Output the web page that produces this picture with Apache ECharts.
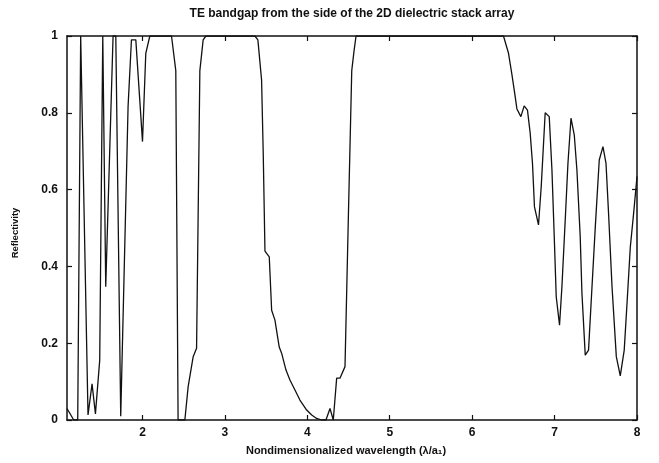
<!DOCTYPE html>
<html>
<head>
<meta charset="utf-8">
<script src="https://cdn.jsdelivr.net/npm/echarts@6/dist/echarts.min.js"></script>
<style>html,body{margin:0;padding:0;background:#fff}#c{width:659px;height:463px}</style>
</head>
<body>
<div id="c"></div>
<script>
var titleText = 'TE bandgap from the side of the 2D dielectric stack array';
var xName = 'Nondimensionalized wavelength (\u03bb/a\u2081)';
var yName = 'Reflectivity';
var xTicks = [2, 3, 4, 5, 6, 7, 8];
var wavelength = [
  1.084, 1.166, 1.214, 1.25, 1.269, 1.339, 1.388, 1.429, 1.481, 1.518, 1.536, 1.554, 1.643, 1.676, 1.736,
  1.825, 1.866, 1.919, 2.0, 2.04, 2.089, 2.352, 2.404, 2.432, 2.514, 2.554, 2.615, 2.656, 2.696, 2.736,
  2.769, 3.364, 3.40, 3.445, 3.465, 3.486, 3.538, 3.567, 3.607, 3.659, 3.688, 3.741, 3.789, 3.85, 3.91,
  3.992, 4.053, 4.113, 4.174, 4.226, 4.275, 4.315, 4.356, 4.396, 4.457, 4.497, 4.539, 4.566, 4.591, 6.38,
  6.441, 6.482, 6.522, 6.543, 6.591, 6.631, 6.671, 6.704, 6.732, 6.756, 6.805, 6.838, 6.886, 6.935, 6.968,
  6.996, 7.02, 7.06, 7.089, 7.129, 7.162, 7.199, 7.239, 7.271, 7.311, 7.332, 7.372, 7.412, 7.454, 7.494,
  7.542, 7.587, 7.624, 7.655, 7.697, 7.749, 7.797, 7.845, 7.879, 7.919, 7.959, 8.0
];
var reflectivity = [
  0.03, 0, 0, 1, 1, 0.013, 0.094, 0.016, 0.156, 1, 1, 0.347, 1, 1, 0.01,
  0.816, 0.99, 0.99, 0.725, 0.955, 1, 1, 0.91, 0, 0, 0.087, 0.165, 0.187, 0.91, 0.99,
  1, 1, 0.99, 0.885, 0.694, 0.44, 0.425, 0.286, 0.26, 0.19, 0.174, 0.13, 0.104, 0.078, 0.052,
  0.026, 0.013, 0.004, 0, 0, 0.03, 0, 0.109, 0.109, 0.139, 0.52, 0.91, 0.96, 1, 1,
  0.955, 0.90, 0.842, 0.81, 0.79, 0.818, 0.807, 0.747, 0.668, 0.555, 0.508, 0.608, 0.80, 0.79, 0.651,
  0.477, 0.321, 0.247, 0.347, 0.52, 0.668, 0.786, 0.742, 0.651, 0.477, 0.33, 0.169, 0.182, 0.347, 0.503,
  0.677, 0.712, 0.668, 0.538, 0.347, 0.165, 0.115, 0.182, 0.304, 0.451, 0.538, 0.634
];

var pts = wavelength.map(function (x, i) { return [x, reflectivity[i]]; });
var font = 'Liberation Sans';
var lineCol = '#111';
var chart = echarts.init(document.getElementById('c'), null, {renderer: 'canvas'});
chart.setOption({
  backgroundColor: '#fff',
  animation: false,
  title: {
    text: titleText, left: 347, top: 3, textAlign: 'center',
    textStyle: {fontFamily: font, fontSize: 12, fontWeight: 'bold', color: '#111'}
  },
  grid: {left: 67, right: 22, top: 36, bottom: 43, containLabel: false},
  xAxis: [{
    type: 'value', min: 1.084, max: 8, position: 'bottom',
    name: xName, nameLocation: 'middle', nameGap: 25,
    nameTextStyle: {fontFamily: font, fontSize: 11, fontWeight: 'bold', color: '#111', padding: [0, 12, 0, 0]},
    axisLine: {show: true, onZero: false, lineStyle: {color: lineCol, width: 1.5}},
    axisTick: {show: true, inside: true, length: 5, customValues: xTicks, lineStyle: {color: lineCol, width: 1.2}},
    axisLabel: {show: true, customValues: xTicks, margin: 7, fontFamily: font, fontSize: 12, fontWeight: 'bold', color: '#111'},
    splitLine: {show: false}
  }, {
    type: 'value', min: 1.084, max: 8, position: 'top',
    axisLine: {show: true, onZero: false, lineStyle: {color: lineCol, width: 1.5}},
    axisTick: {show: true, inside: true, length: 5, customValues: xTicks, lineStyle: {color: lineCol, width: 1.2}},
    axisLabel: {show: false},
    splitLine: {show: false}
  }],
  yAxis: [{
    type: 'value', min: 0, max: 1, interval: 0.2, position: 'left',
    name: yName, nameLocation: 'middle', nameGap: 47,
    nameTextStyle: {fontFamily: font, fontSize: 9.5, fontWeight: 'bold', color: '#111', padding: [0, 10, 0, 0]},
    axisLine: {show: true, onZero: false, lineStyle: {color: lineCol, width: 1.5}},
    axisTick: {show: true, inside: true, length: 5, lineStyle: {color: lineCol, width: 1.2}},
    axisLabel: {show: true, margin: 9, fontFamily: font, fontSize: 12, fontWeight: 'bold', color: '#111'},
    splitLine: {show: false}
  }, {
    type: 'value', min: 0, max: 1, interval: 0.2, position: 'right',
    axisLine: {show: true, onZero: false, lineStyle: {color: lineCol, width: 1.5}},
    axisTick: {show: true, inside: true, length: 5, lineStyle: {color: lineCol, width: 1.2}},
    axisLabel: {show: false},
    splitLine: {show: false}
  }],
  series: [{
    type: 'line', xAxisIndex: 0, yAxisIndex: 0, data: pts,
    showSymbol: false, symbol: 'none', smooth: false,
    lineStyle: {color: '#111', width: 1.3},
    clip: true
  }]
});
</script>
</body>
</html>
